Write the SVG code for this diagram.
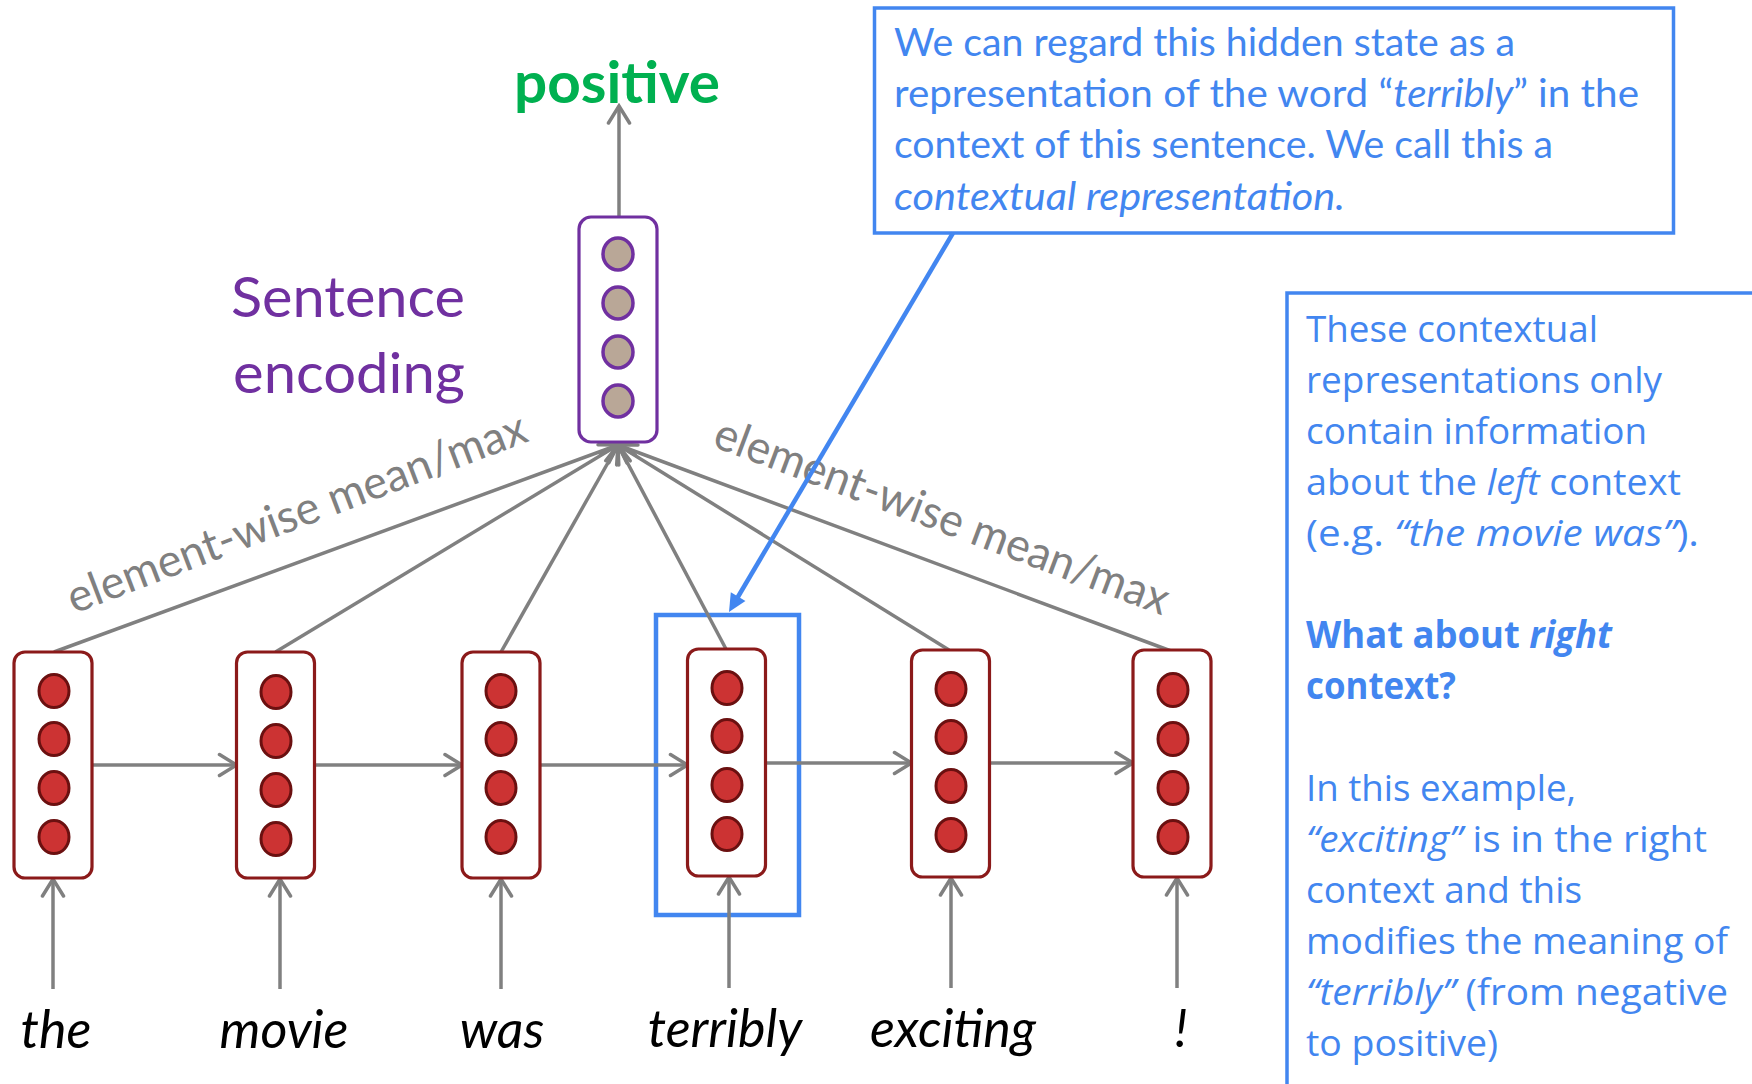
<svg xmlns="http://www.w3.org/2000/svg" width="1752" height="1084" viewBox="0 0 1752 1084">
<defs>
<style>
.conn{stroke:#808080;stroke-width:3.5;fill:none}
.rnode{fill:#fff;stroke:#8B1A1A;stroke-width:3.2}
.rc{fill:#CC3333;stroke:#6B1010;stroke-width:3}
.pnode{fill:#fff;stroke:#7030A0;stroke-width:3.2}
.pc{fill:#B9A797;stroke:#7030A0;stroke-width:3.5}
.word{font-family:Lato,"Liberation Sans",sans-serif;font-style:italic;font-size:52px;fill:#000;text-anchor:middle}
.lbl{font-family:Lato,"Liberation Sans",sans-serif;font-size:46px;fill:#808080}
.blue{fill:none;stroke:#4286F0}
.tb{font-family:Lato,"Liberation Sans",sans-serif;font-size:39px;fill:#4286F0}
.rb{font-family:"Open Sans","Liberation Sans",sans-serif;font-size:37px;fill:#4286F0}
.it{font-style:italic}
.bd{font-weight:bold}
</style>
<marker id="chev" viewBox="-20 -13 23 26" markerWidth="23" markerHeight="26" refX="0" refY="0" orient="auto" markerUnits="userSpaceOnUse">
<path d="M-17,-10.5 L0,0 L-17,10.5" fill="none" stroke="#808080" stroke-width="3.5" stroke-linecap="round"/>
</marker>
<marker id="barrow" viewBox="-6 -10 22 20" markerWidth="22" markerHeight="20" refX="0" refY="0" orient="auto" markerUnits="userSpaceOnUse">
<path d="M-4,-8.5 L14,0 L-4,8.5 Z" fill="#4286F0"/>
</marker>
</defs>
<rect width="1752" height="1084" fill="#fff"/>

<!-- highlight box around terribly -->
<rect id="highlight" x="656" y="615" width="143" height="300" class="blue" stroke-width="4.5"/>

<g id="connectors">
<!-- recurrent -->
<line class="conn" x1="92" y1="765" x2="236.5" y2="765" marker-end="url(#chev)"/>
<line class="conn" x1="314.5" y1="765" x2="462" y2="765" marker-end="url(#chev)"/>
<line class="conn" x1="540" y1="765" x2="687.5" y2="765" marker-end="url(#chev)"/>
<line class="conn" x1="765.5" y1="763" x2="911.5" y2="763" marker-end="url(#chev)"/>
<line class="conn" x1="989.5" y1="763" x2="1133" y2="763" marker-end="url(#chev)"/>
<!-- inputs -->
<line class="conn" x1="53" y1="989" x2="53" y2="879" marker-end="url(#chev)"/>
<line class="conn" x1="280" y1="989" x2="280" y2="879" marker-end="url(#chev)"/>
<line class="conn" x1="501" y1="989" x2="501" y2="879" marker-end="url(#chev)"/>
<line class="conn" x1="729" y1="988" x2="729" y2="877" marker-end="url(#chev)"/>
<line class="conn" x1="951" y1="988" x2="951" y2="878" marker-end="url(#chev)"/>
<line class="conn" x1="1177" y1="988" x2="1177" y2="878" marker-end="url(#chev)"/>
<!-- pooling -->
<line class="conn" x1="54" y1="652" x2="618" y2="445" marker-end="url(#chev)"/>
<line class="conn" x1="275.5" y1="652" x2="618" y2="445" marker-end="url(#chev)"/>
<line class="conn" x1="501" y1="652" x2="618" y2="445" marker-end="url(#chev)"/>
<line class="conn" x1="726" y1="649" x2="618" y2="445" marker-end="url(#chev)"/>
<line class="conn" x1="949" y1="650" x2="618" y2="445" marker-end="url(#chev)"/>
<line class="conn" x1="1171" y1="651" x2="618" y2="445" marker-end="url(#chev)"/>
<!-- output -->
<line class="conn" x1="619" y1="217" x2="619" y2="106" marker-end="url(#chev)"/>
<!-- labels -->
<text class="lbl" transform="translate(74,614) rotate(-20.8)" textLength="488" lengthAdjust="spacingAndGlyphs">element-wise mean/max</text>
<text class="lbl" transform="translate(711,446) rotate(20.6)" textLength="482" lengthAdjust="spacingAndGlyphs">element-wise mean/max</text>
<!-- callout pointer -->
<line x1="953" y1="233" x2="736.1" y2="600" stroke="#4286F0" stroke-width="4.5" marker-end="url(#barrow)"/>
</g>

<g id="node-the">
<rect class="rnode" x="14" y="652" width="78" height="226" rx="11"/>
<ellipse class="rc" cx="54" cy="691" rx="15" ry="16.5"/>
<ellipse class="rc" cx="54" cy="739" rx="15" ry="16.5"/>
<ellipse class="rc" cx="54" cy="788" rx="15" ry="16.5"/>
<ellipse class="rc" cx="54" cy="837" rx="15" ry="16.5"/>
</g>
<g id="node-movie">
<rect class="rnode" x="236.5" y="652" width="78" height="226" rx="11"/>
<ellipse class="rc" cx="276" cy="692" rx="15" ry="16.5"/>
<ellipse class="rc" cx="276" cy="741" rx="15" ry="16.5"/>
<ellipse class="rc" cx="276" cy="790" rx="15" ry="16.5"/>
<ellipse class="rc" cx="276" cy="839" rx="15" ry="16.5"/>
</g>
<g id="node-was">
<rect class="rnode" x="462" y="652" width="78" height="226" rx="11"/>
<ellipse class="rc" cx="501" cy="691" rx="15" ry="16.5"/>
<ellipse class="rc" cx="501" cy="739" rx="15" ry="16.5"/>
<ellipse class="rc" cx="501" cy="788" rx="15" ry="16.5"/>
<ellipse class="rc" cx="501" cy="837" rx="15" ry="16.5"/>
</g>
<g id="node-terribly">
<rect class="rnode" x="687.5" y="649" width="78" height="227" rx="11"/>
<ellipse class="rc" cx="727" cy="688" rx="15" ry="16.5"/>
<ellipse class="rc" cx="727" cy="736" rx="15" ry="16.5"/>
<ellipse class="rc" cx="727" cy="785" rx="15" ry="16.5"/>
<ellipse class="rc" cx="727" cy="834" rx="15" ry="16.5"/>
</g>
<g id="node-exciting">
<rect class="rnode" x="911.5" y="650" width="78" height="227" rx="11"/>
<ellipse class="rc" cx="951" cy="689" rx="15" ry="16.5"/>
<ellipse class="rc" cx="951" cy="737" rx="15" ry="16.5"/>
<ellipse class="rc" cx="951" cy="786" rx="15" ry="16.5"/>
<ellipse class="rc" cx="951" cy="835" rx="15" ry="16.5"/>
</g>
<g id="node-excl">
<rect class="rnode" x="1133" y="650" width="78" height="227" rx="11"/>
<ellipse class="rc" cx="1173" cy="690" rx="15" ry="16.5"/>
<ellipse class="rc" cx="1173" cy="739" rx="15" ry="16.5"/>
<ellipse class="rc" cx="1173" cy="788" rx="15" ry="16.5"/>
<ellipse class="rc" cx="1173" cy="837" rx="15" ry="16.5"/>
</g>
<g id="node-sentence">
<rect class="pnode" x="579" y="217" width="78" height="225" rx="12"/>
<ellipse class="pc" cx="618" cy="254" rx="15" ry="16"/>
<ellipse class="pc" cx="618" cy="303" rx="15" ry="16"/>
<ellipse class="pc" cx="618" cy="352" rx="15" ry="16"/>
<ellipse class="pc" cx="618" cy="401" rx="15" ry="16"/>
</g>

<g id="words">
<text class="word" x="56" y="1048">the</text>
<text class="word" x="284" y="1048">movie</text>
<text class="word" x="502" y="1048">was</text>
<text class="word" x="725" y="1047">terribly</text>
<text class="word" x="953" y="1047">exciting</text>
<text class="word" x="1181" y="1047">!</text>
</g>

<g id="output">
<text x="617" y="103" font-family="Lato,'Liberation Sans',sans-serif" font-weight="bold" font-size="57" fill="#00B050" text-anchor="middle" textLength="206" lengthAdjust="spacingAndGlyphs">positive</text>
</g>

<g id="sentence-label" font-family="Lato,'Liberation Sans',sans-serif" font-size="57" fill="#7030A0">
<text x="231" y="317" textLength="234" lengthAdjust="spacingAndGlyphs">Sentence</text>
<text x="233" y="393" textLength="232" lengthAdjust="spacingAndGlyphs">encoding</text>
</g>

<g id="callout-top">
<rect x="874.5" y="8" width="799" height="225" class="blue" stroke-width="3.5"/>
<text class="tb" x="894" y="56" textLength="621" lengthAdjust="spacingAndGlyphs">We can regard this hidden state as a</text>
<text class="tb" x="894" y="107" textLength="745" lengthAdjust="spacingAndGlyphs">representation of the word “<tspan class="it">terribly</tspan>” in the</text>
<text class="tb" x="894" y="158" textLength="659" lengthAdjust="spacingAndGlyphs">context of this sentence. We call this a</text>
<text class="tb it" x="894" y="210" textLength="451" lengthAdjust="spacingAndGlyphs">contextual representation.</text>
</g>

<g id="callout-right">
<rect x="1287" y="293" width="520" height="840" class="blue" stroke-width="3.5"/>
<text class="rb" x="1306" y="342" textLength="292" lengthAdjust="spacingAndGlyphs">These contextual</text>
<text class="rb" x="1306" y="393" textLength="356" lengthAdjust="spacingAndGlyphs">representations only</text>
<text class="rb" x="1306" y="444" textLength="341" lengthAdjust="spacingAndGlyphs">contain information</text>
<text class="rb" x="1306" y="495" textLength="375" lengthAdjust="spacingAndGlyphs">about the <tspan class="it">left</tspan> context</text>
<text class="rb" x="1306" y="546" textLength="393" lengthAdjust="spacingAndGlyphs">(e.g. <tspan class="it">“the movie was”</tspan>).</text>
<text class="rb bd" x="1306" y="648" textLength="306" lengthAdjust="spacingAndGlyphs">What about <tspan class="it">right</tspan></text>
<text class="rb bd" x="1306" y="699" textLength="150" lengthAdjust="spacingAndGlyphs">context?</text>
<text class="rb" x="1306" y="801" textLength="270" lengthAdjust="spacingAndGlyphs">In this example,</text>
<text class="rb" x="1306" y="852" textLength="401" lengthAdjust="spacingAndGlyphs"><tspan class="it">“exciting”</tspan> is in the right</text>
<text class="rb" x="1306" y="903" textLength="276" lengthAdjust="spacingAndGlyphs">context and this</text>
<text class="rb" x="1306" y="954" textLength="422" lengthAdjust="spacingAndGlyphs">modifies the meaning of</text>
<text class="rb" x="1306" y="1005" textLength="422" lengthAdjust="spacingAndGlyphs"><tspan class="it">“terribly”</tspan> (from negative</text>
<text class="rb" x="1306" y="1056" textLength="192" lengthAdjust="spacingAndGlyphs">to positive)</text>
</g>
</svg>
